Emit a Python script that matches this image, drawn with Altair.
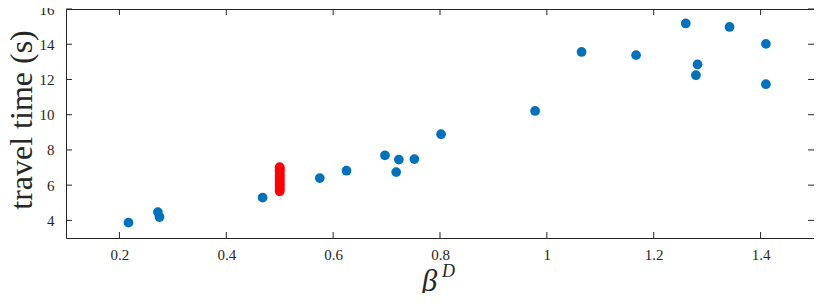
import altair as alt
import pandas as pd

# blue measurements
beta_blue = [0.217, 0.272, 0.275, 0.468, 0.575, 0.625, 0.697, 0.718, 0.723, 0.752, 0.802,
             0.978, 1.065, 1.167, 1.260, 1.279, 1.282, 1.342, 1.410, 1.410]
time_blue = [3.87, 4.47, 4.19, 5.29, 6.40, 6.82, 7.69, 6.74, 7.45, 7.48, 8.89,
             10.21, 13.56, 13.38, 15.18, 12.24, 12.85, 14.98, 14.02, 11.73]
# red cluster at beta = 0.5
time_red = [5.65, 5.75, 5.85, 5.95, 6.05, 6.15, 6.25, 6.35, 6.45, 6.55, 6.65, 6.75, 6.85, 6.95, 7.02]
beta_red = [0.5] * len(time_red)

x_ticks = [0.2, 0.4, 0.6, 0.8, 1.0, 1.2, 1.4]
y_ticks = [4, 6, 8, 10, 12, 14, 16]

W, H = 748, 229
TL = 6
FONT = "Liberation Serif"
AX = "#262626"

blue_df = pd.DataFrame({"beta": beta_blue, "t": time_blue})
red_df = pd.DataFrame({"beta": beta_red, "t": time_red})
xt = pd.DataFrame({"v": x_ticks})
yt = pd.DataFrame({"v": y_ticks})

xscale = alt.Scale(domain=[0.1, 1.5], nice=False, zero=False)
yscale = alt.Scale(domain=[3, 16], nice=False, zero=False)

xaxis = alt.Axis(values=x_ticks, title="β", titleFontStyle="italic", titleFontSize=31,
                 titleFont=FONT, titleFontWeight="normal", titleColor=AX,
                 titleX=W / 2 - 11, titleAlign="center", titleBaseline="middle", titleY=43,
                 labelFont=FONT, labelFontSize=15, labelColor=AX, labelPadding=9,
                 labelOverlap=False, ticks=False, domain=False, grid=False,
                 labelExpr="datum.value == 1 ? '1' : format(datum.value, '.1f')")
yaxis = alt.Axis(values=y_ticks, title="travel time (s)", titleFontSize=32,
                 titleFont=FONT, titleFontWeight="normal", titleColor=AX,
                 titleX=-45, titleY=H / 2 - 4, titleAlign="center", titleBaseline="middle",
                 titleAngle=270,
                 labelFont=FONT, labelFontSize=15, labelColor=AX, labelPadding=12,
                 labelOverlap=False, labelFlush=False, ticks=False, domain=False, grid=False)

blue = alt.Chart(blue_df).mark_circle(size=95, opacity=1, color="#0072BD").encode(
    x=alt.X("beta:Q", scale=xscale, axis=xaxis),
    y=alt.Y("t:Q", scale=yscale, axis=yaxis),
)
red = alt.Chart(red_df).mark_circle(size=95, opacity=1, color="#FF0000").encode(
    x=alt.X("beta:Q", scale=xscale, axis=xaxis),
    y=alt.Y("t:Q", scale=yscale, axis=yaxis),
)

tick_style = dict(color=AX, strokeWidth=1)
xb = alt.Chart(xt).mark_rule(**tick_style).encode(
    x=alt.X("v:Q", scale=xscale, axis=xaxis), y=alt.value(H), y2=alt.value(H - TL))
xtop = alt.Chart(xt).mark_rule(**tick_style).encode(
    x=alt.X("v:Q", scale=xscale, axis=xaxis), y=alt.value(0), y2=alt.value(TL))
yl = alt.Chart(yt).mark_rule(**tick_style).encode(
    y=alt.Y("v:Q", scale=yscale, axis=yaxis), x=alt.value(0), x2=alt.value(TL))
yr = alt.Chart(yt).mark_rule(**tick_style).encode(
    y=alt.Y("v:Q", scale=yscale, axis=yaxis), x=alt.value(W), x2=alt.value(W - TL))

sup = alt.Chart(pd.DataFrame({"s": ["D"]})).mark_text(
    font=FONT, fontSize=18, fontStyle="italic", color=AX, align="left", baseline="middle"
).encode(text="s:N", x=alt.value(W / 2 + 2), y=alt.value(H + 34))

chart = alt.layer(blue, red, xb, xtop, yl, yr, sup).properties(
    width=W, height=H,
    autosize=alt.AutoSizeParams(type="none"),
    padding={"left": 58, "top": 1, "right": 0, "bottom": 55},
).configure(background="white").configure_view(stroke=AX, strokeWidth=1)

chart.save("out.html", embed_options={"renderer": "svg", "actions": False})
